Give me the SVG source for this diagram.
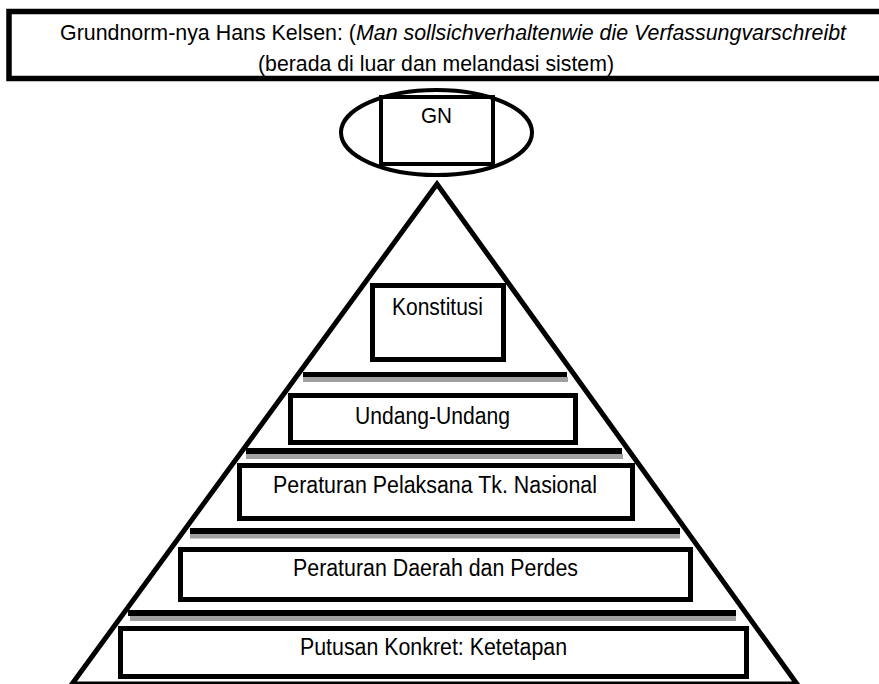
<svg xmlns="http://www.w3.org/2000/svg" width="879" height="684" viewBox="0 0 879 684">
<style>
.t{font-family:"Liberation Sans",Arial,sans-serif;fill:#000}
.box{fill:#fff;stroke:#000;stroke-width:5}
.blk{fill:#000}
.gry{fill:#a0a0a0}
</style>
<rect width="879" height="684" fill="#fff"/>
<g id="header">
<rect x="9" y="11.5" width="885" height="67" fill="#fff" stroke="#000" stroke-width="5.5"/>
<text class="t" x="60" y="40" font-size="22" textLength="786" lengthAdjust="spacingAndGlyphs">Grundnorm-nya Hans Kelsen: (<tspan font-style="italic">Man sollsichverhaltenwie die Verfassungvarschreibt</tspan></text>
<text class="t" x="258" y="71" font-size="22" textLength="356" lengthAdjust="spacingAndGlyphs">(berada di luar dan melandasi sistem)</text>
</g>
<g id="gn">
<ellipse cx="436.5" cy="132.5" rx="95.5" ry="42.5" fill="#fff" stroke="#000" stroke-width="4"/>
<rect x="381" y="97" width="112" height="67" fill="none" stroke="#000" stroke-width="4"/>
<text class="t" x="421" y="123" font-size="22" textLength="31" lengthAdjust="spacingAndGlyphs">GN</text>
</g>
<g id="pyramid">
<polygon points="437,184 72,684 797,684" fill="#fff" stroke="#000" stroke-width="5" stroke-linejoin="miter"/>
</g>
<g id="connectors">
<rect class="blk" x="303" y="372" width="264" height="5"/>
<rect class="gry" x="303" y="377" width="265" height="5"/>
<rect class="blk" x="246" y="448" width="376" height="6"/>
<rect class="gry" x="246" y="454" width="377" height="5"/>
<rect class="blk" x="190" y="528" width="490" height="6"/>
<rect class="gry" x="190" y="534" width="490" height="4.5"/>
<rect class="blk" x="128" y="610" width="608" height="6"/>
<rect class="gry" x="130" y="616" width="606" height="5"/>
</g>
<g id="konstitusi">
<rect class="box" x="372.5" y="285.5" width="131" height="74"/>
<text class="t" x="392" y="315" font-size="23" textLength="91" lengthAdjust="spacingAndGlyphs">Konstitusi</text>
</g>
<g id="undang">
<rect class="box" x="290.5" y="395.5" width="285" height="47"/>
<text class="t" x="355" y="424" font-size="23" textLength="155" lengthAdjust="spacingAndGlyphs">Undang-Undang</text>
</g>
<g id="pelaksana">
<rect class="box" x="239.5" y="465.5" width="393" height="53"/>
<text class="t" x="273" y="493" font-size="23" textLength="324" lengthAdjust="spacingAndGlyphs">Peraturan Pelaksana Tk. Nasional</text>
</g>
<g id="daerah">
<rect class="box" x="180.5" y="549.5" width="510" height="50"/>
<text class="t" x="293" y="576" font-size="23" textLength="285" lengthAdjust="spacingAndGlyphs">Peraturan Daerah dan Perdes</text>
</g>
<g id="putusan">
<rect class="box" x="120.5" y="628.5" width="626" height="48"/>
<text class="t" x="300" y="655" font-size="23" textLength="267" lengthAdjust="spacingAndGlyphs">Putusan Konkret: Ketetapan</text>
</g>
</svg>
